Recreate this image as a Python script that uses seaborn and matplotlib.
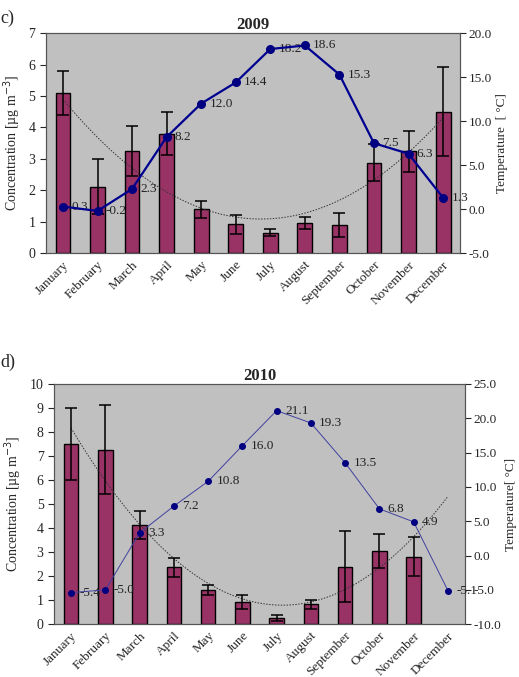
import numpy as np
import pandas as pd
import seaborn as sns
import matplotlib.pyplot as plt
from matplotlib.ticker import FormatStrFormatter, FixedLocator

months = ['January', 'February', 'March', 'April', 'May', 'June', 'July',
          'August', 'September', 'October', 'November', 'December']

# 2009
conc_2009 = [5.1, 2.12, 3.25, 3.8, 1.4, 0.92, 0.65, 0.96, 0.9, 2.88, 3.24, 4.5]
sd_2009 = [0.7, 0.87, 0.8, 0.68, 0.27, 0.31, 0.11, 0.2, 0.37, 0.58, 0.66, 1.42]
temp_2009 = [0.3, -0.2, 2.3, 8.2, 12.0, 14.4, 18.2, 18.6, 15.3, 7.5, 6.3, 1.3]

# 2010 (no December concentration)
conc_2010 = [7.5, 7.25, 4.13, 2.36, 1.43, 0.92, 0.25, 0.83, 2.4, 3.05, 2.8, np.nan]
sd_2010 = [1.5, 1.85, 0.57, 0.38, 0.21, 0.29, 0.12, 0.18, 1.48, 0.7, 0.81, np.nan]
temp_2010 = [-5.4, -5.0, 3.3, 7.2, 10.8, 16.0, 21.1, 19.3, 13.5, 6.8, 4.9, -5.1]

sns.set_style('white')
plt.rcParams['font.family'] = ['Liberation Serif', 'DejaVu Serif']

BAR = '#993366'
BG = '#c0c0c0'


def panel(ax, conc, sd, temp, title, ymax, tlim, tstep, tlabel, thin):
    df = pd.DataFrame({'month': months, 'conc': conc})
    sns.barplot(data=df, x='month', y='conc', ax=ax, color=BAR, width=0.43,
                errorbar=None, edgecolor='black', linewidth=1, saturation=1)
    x = np.arange(len(months))
    ax.errorbar(x, conc, yerr=sd, fmt='none', ecolor='black', elinewidth=1.1,
                capsize=4, capthick=1.1, zorder=3)

    # polynomial trend line of the concentration
    ok = ~np.isnan(np.array(conc, dtype=float))
    coef = np.polyfit(x[ok] + 1, np.array(conc, dtype=float)[ok], 2)
    xs = np.linspace(0, 11, 200)
    ax.plot(xs, np.polyval(coef, xs + 1), ls=(0, (1.5, 1.5)), color='#333333',
            lw=0.7, zorder=2)

    ax.set_facecolor(BG)
    ax.set_xlim(-0.5, 11.5)
    ax.set_ylim(0, ymax)
    ax.set_yticks(range(0, ymax + 1))
    ax.set_ylabel('Concentration [µg m$^{-3}$]', fontsize=10)
    ax.set_xlabel('')
    ax.set_title(title, fontsize=12, fontweight='bold', pad=3)
    ax.xaxis.set_major_locator(FixedLocator(np.arange(-0.5, 12, 1)))
    ax.xaxis.set_minor_locator(FixedLocator(x))
    ax.set_xticklabels([], minor=False)
    ax.set_xticklabels(months, minor=True, rotation=45, ha='right',
                       rotation_mode='anchor', fontsize=9.5)
    ax.tick_params(axis='x', which='major', direction='inout', length=6, width=0.8)
    ax.tick_params(axis='x', which='minor', length=0, pad=4)
    ax.tick_params(axis='y', direction='out', length=4, width=0.8, labelsize=10, left=True)
    for s in ax.spines.values():
        s.set_linewidth(0.8)
        s.set_color('#555555')

    ax2 = ax.twinx()
    if thin:
        ax2.plot(x, temp, color='#4040a0', lw=0.7, marker='o', ms=4,
                 mfc='#000080', mec='#000080', zorder=4)
    else:
        ax2.plot(x, temp, color='#000090', lw=1.6, marker='o', ms=5.5,
                 mfc='#000080', mec='#000080', zorder=4)
    for xi, t in zip(x, temp):
        ax2.annotate(f'{t:.1f}', (xi, t), xytext=(6, 0), textcoords='offset points',
                     va='center', ha='left', fontsize=9.5, color='#222222')
    ax2.set_ylim(*tlim)
    ax2.set_yticks(np.arange(tlim[0], tlim[1] + 0.1, tstep))
    ax2.yaxis.set_major_formatter(FormatStrFormatter('%.1f'))
    ax2.tick_params(axis='y', direction='out', length=4, width=0.8, labelsize=9.5,
                    right=True, pad=2)
    ax2.set_ylabel(tlabel, fontsize=9.5, labelpad=3)
    for s in ax2.spines.values():
        s.set_linewidth(0.8)
        s.set_color('#555555')
    ax.set_zorder(ax2.get_zorder() - 1)
    ax2.patch.set_visible(False)
    ax.patch.set_visible(True)
    return ax2


fig = plt.figure(figsize=(5.19, 6.77), dpi=100)
ax_c = fig.add_axes([0.088, 0.626, 0.799, 0.325])
ax_d = fig.add_axes([0.104, 0.078, 0.792, 0.355])

panel(ax_c, conc_2009, sd_2009, temp_2009, '2009', 7, (-5, 20), 5,
      'Temperature  [ °C]', thin=False)
panel(ax_d, conc_2010, sd_2010, temp_2010, '2010', 10, (-10, 25), 5,
      'Temperature[ °C]', thin=True)

fig.text(0.0, 0.985, 'c)', fontsize=13, va='top', ha='left')
fig.text(0.0, 0.478, 'd)', fontsize=13, va='top', ha='left')

fig.savefig('out.png', dpi=100)
